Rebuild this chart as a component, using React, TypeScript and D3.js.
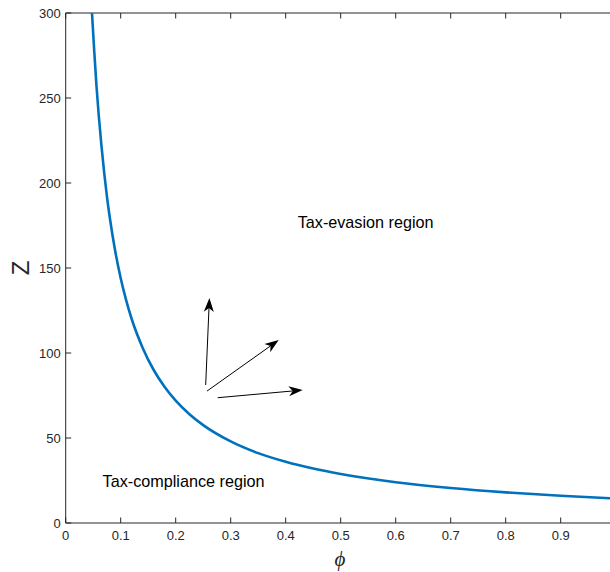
import React from "react";
import * as d3 from "d3";

// Threshold curve
const phiValues = [0.0478, 0.052, 0.056, 0.06, 0.065, 0.07, 0.075, 0.08, 0.09, 0.1, 0.11, 0.12, 0.14, 0.16, 0.18, 0.2, 0.225, 0.25, 0.3, 0.35, 0.4, 0.45, 0.5, 0.6, 0.7, 0.8, 0.9, 1.0];
const zValues = [300, 277, 257, 240, 222, 206, 192, 180, 160, 144, 131, 120, 103, 90, 80, 72, 64, 57.6, 48, 41.1, 36, 32, 28.8, 24, 20.6, 18, 16, 14.4];

const xTicks = [0, 0.1, 0.2, 0.3, 0.4, 0.5, 0.6, 0.7, 0.8, 0.9];
const yTicks = [0, 50, 100, 150, 200, 250, 300];

// Arrows: [phi0, z0, phi1, z1]
const arrowStartPhi = [0.2545, 0.2569, 0.2764];
const arrowStartZ = [81.2, 77.6, 73.7];
const arrowEndPhi = [0.2613, 0.3873, 0.4309];
const arrowEndZ = [132.4, 107.6, 78.2];

const labelTexts = ["Tax-evasion region", "Tax-compliance region"];
const labelPhi = [0.4218, 0.067];
const labelZ = [177, 24.7];

export default function App() {
  const W = 610, H = 572;
  const left = 65.7, right = 615.7, top = 13, bottom = 523;
  const x = d3.scaleLinear().domain([0, 1]).range([left, right]);
  const y = d3.scaleLinear().domain([0, 300]).range([bottom, top]);
  const axisColor = "#262626";
  const pts: [number, number][] = phiValues.map((p, i) => [p, zValues[i]]);
  const line = d3
    .line<[number, number]>()
    .x((d) => x(d[0]))
    .y((d) => y(d[1]))
    .curve(d3.curveMonotoneX);
  const font = "'Liberation Sans', Arial, Helvetica, sans-serif";
  const tl = 5.5;

  const arrows = arrowStartPhi.map((p, i) => {
    const x0 = x(p), y0 = y(arrowStartZ[i]);
    const x1 = x(arrowEndPhi[i]), y1 = y(arrowEndZ[i]);
    const ang = Math.atan2(y1 - y0, x1 - x0);
    const L = 14, Wd = 5, back = 4;
    const ux = Math.cos(ang), uy = Math.sin(ang);
    const px = -uy, py = ux;
    const bx = x1 - ux * L, by = y1 - uy * L;
    const nx = x1 - ux * (L - back), ny = y1 - uy * (L - back);
    const head = `M${x1},${y1} L${bx + px * Wd},${by + py * Wd} L${nx},${ny} L${bx - px * Wd},${by - py * Wd} Z`;
    return { x0, y0, nx, ny, head };
  });

  return (
    <svg
      width={W}
      height={H}
      style={{ position: "absolute", left: 0, top: 0, background: "#fff" }}
    >
      <defs>
        <clipPath id="plotclip">
          <rect x={left} y={top} width={right - left} height={bottom - top} />
        </clipPath>
      </defs>
      <rect x={0} y={0} width={W} height={H} fill="#fff" />
      {/* axes box */}
      <g stroke={axisColor} strokeWidth={1} fill="none">
        <line x1={left} y1={bottom} x2={right} y2={bottom} />
        <line x1={left} y1={top} x2={right} y2={top} />
        <line x1={left} y1={top} x2={left} y2={bottom} />
        <line x1={right} y1={top} x2={right} y2={bottom} />
        {xTicks.map((t) => (
          <g key={"xt" + t}>
            <line x1={x(t)} x2={x(t)} y1={bottom} y2={bottom - tl} />
            <line x1={x(t)} x2={x(t)} y1={top} y2={top + tl} />
          </g>
        ))}
        {yTicks.map((t) => (
          <g key={"yt" + t}>
            <line x1={left} x2={left + tl} y1={y(t)} y2={y(t)} />
            <line x1={right} x2={right - tl} y1={y(t)} y2={y(t)} />
          </g>
        ))}
      </g>
      {xTicks.map((t) => (
        <text
          key={"xl" + t}
          x={x(t)}
          y={bottom + 17}
          textAnchor="middle"
          fontFamily={font}
          fontSize={13}
          fill={axisColor}
        >
          {t === 0 ? "0" : d3.format(".1f")(t)}
        </text>
      ))}
      {yTicks.map((t) => (
        <text
          key={"yl" + t}
          x={left - 5}
          y={y(t) + 4.5}
          textAnchor="end"
          fontFamily={font}
          fontSize={13}
          fill={axisColor}
        >
          {t}
        </text>
      ))}
      {/* curve */}
      <path
        d={line(pts) || ""}
        fill="none"
        stroke="#0072BD"
        strokeWidth={2.6}
        clipPath="url(#plotclip)"
      />
      {/* arrows */}
      {arrows.map((a, i) => (
        <g key={"ar" + i}>
          <line x1={a.x0} y1={a.y0} x2={a.nx} y2={a.ny} stroke="#000" strokeWidth={1} />
          <path d={a.head} fill="#000" stroke="none" />
        </g>
      ))}
      {/* region labels */}
      {labelTexts.map((s, i) => (
        <text
          key={"lab" + i}
          x={x(labelPhi[i])}
          y={y(labelZ[i]) + 5.5}
          fontFamily={font}
          fontSize={16.2}
          fill="#000"
        >
          {s}
        </text>
      ))}
      {/* axis titles */}
      <text
        transform={`translate(29,268) rotate(-90)`}
        textAnchor="middle"
        fontFamily={font}
        fontSize={24}
        fill={axisColor}
      >
        Z
      </text>
      <text
        x={340}
        y={566}
        textAnchor="middle"
        fontFamily="'Liberation Serif', 'Times New Roman', serif"
        fontStyle="italic"
        fontSize={21}
        fill={axisColor}
      >
        ϕ
      </text>
    </svg>
  );
}
